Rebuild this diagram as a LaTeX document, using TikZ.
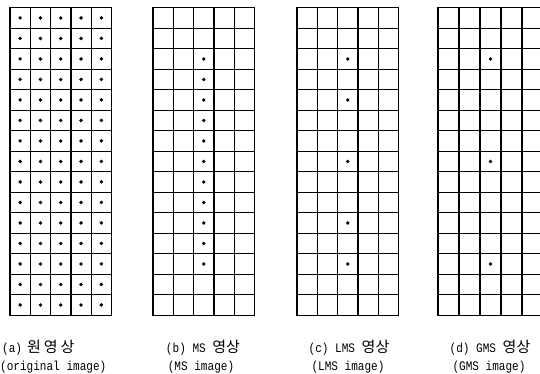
\documentclass[tikz,border=0pt]{standalone}
\usepackage{fontspec}
\setmonofont[FakeStretch=0.85]{Liberation Mono}
\newfontfamily\kofont{Noto Sans CJK KR}
\newcommand\kor[1]{{\kofont\fontsize{15}{15}\selectfont #1}}
\tikzset{
  gridline/.style={line width=1.3pt, line cap=rect},
  pixdot/.style={fill=black},
  caption/.style={inner sep=0pt, font=\ttfamily\fontsize{13}{15}\selectfont}
}
\begin{document}
\begin{tikzpicture}[x=1pt,y=-1pt]
\useasboundingbox (0,0) rectangle (540,374);
% grids
\foreach \gx/\cw in {10/20.3,153/20.3,297/20.3,438/21} {
  \foreach \i in {0,...,5}
    \draw[gridline] ({\gx+\i*\cw},7.7) -- ({\gx+\i*\cw},315.2);
  \foreach \j in {0,...,15}
    \draw[gridline] (\gx,{7.7+\j*20.5}) -- ({\gx+5*\cw},{7.7+\j*20.5});
}
% (a) original image: every cell
\foreach \i in {0,...,4}
  \foreach \j in {0,...,14}
    \fill[pixdot] ({10+(\i+0.5)*20.3},{7.7+(\j+0.5)*20.5}) circle (1.9);
% (b) MS image
\foreach \j in {2,...,12}
  \fill[pixdot] ({153+2.5*20.3},{7.7+(\j+0.5)*20.5}) circle (1.9);
% (c) LMS image
\foreach \j in {2,4,7,10,12}
  \fill[pixdot] ({297+2.5*20.3},{7.7+(\j+0.5)*20.5}) circle (1.9);
% (d) GMS image
\foreach \j in {2,7,12}
  \fill[pixdot] ({438+2.5*21},{7.7+(\j+0.5)*20.5}) circle (1.9);
% captions
\node[caption, anchor=west] (la1) at (2,348) {(a)\hspace{5pt}\kor{원\hspace{3pt}영\hspace{3pt}상}};
\node[caption, anchor=west] (la2) at (0,367) {(original image)};
\node[caption] (lb1) at (203,348) {(b) MS \kor{영상}};
\node[caption] (lb2) at (201,367) {(MS image)};
\node[caption] (lc1) at (349,348) {(c) LMS \kor{영상}};
\node[caption] (lc2) at (348,367) {(LMS image)};
\node[caption] (ld1) at (490,348) {(d) GMS \kor{영상}};
\node[caption] (ld2) at (489,367) {(GMS image)};
\end{tikzpicture}
\end{document}
